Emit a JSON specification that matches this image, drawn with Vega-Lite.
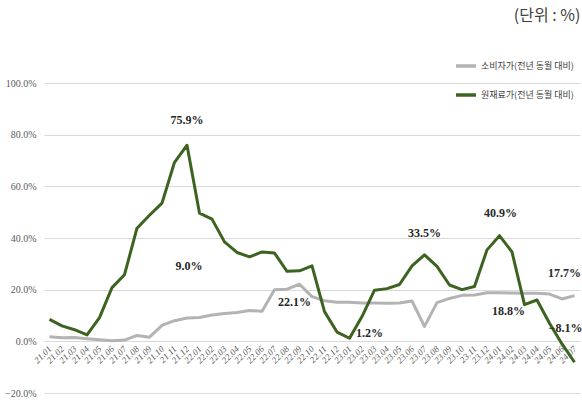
{
  "$schema": "https://vega.github.io/schema/vega-lite/v6.json",
  "width": 536,
  "height": 310,
  "autosize": {"type": "none"},
  "padding": {"left": 44, "top": 83, "right": 2, "bottom": 7},
  "background": "white",
  "title": {
    "text": "(단위 : %)",
    "anchor": "end",
    "orient": "top",
    "offset": 30,
    "fontSize": 16,
    "fontWeight": "normal",
    "font": "Noto Sans CJK KR",
    "color": "#404040",
    "dx": -2
  },
  "config": {
    "view": {"stroke": null},
    "font": "Liberation Sans Narrow"
  },
  "data": {
    "values": [
      {"m": "21.01", "g": 1.8, "r": 8.5},
      {"m": "21.02", "g": 1.4, "r": 6.0},
      {"m": "21.03", "g": 1.5, "r": 4.5},
      {"m": "21.04", "g": 1.0, "r": 2.5},
      {"m": "21.05", "g": 0.6, "r": 9.2},
      {"m": "21.06", "g": 0.2, "r": 20.8},
      {"m": "21.07", "g": 0.5, "r": 25.8},
      {"m": "21.08", "g": 2.3, "r": 43.8},
      {"m": "21.09", "g": 1.6, "r": 48.8},
      {"m": "21.10", "g": 6.2, "r": 53.5},
      {"m": "21.11", "g": 8.0, "r": 69.3},
      {"m": "21.12", "g": 9.0, "r": 75.9},
      {"m": "22.01", "g": 9.2, "r": 49.6},
      {"m": "22.02", "g": 10.2, "r": 47.3},
      {"m": "22.03", "g": 10.8, "r": 38.5},
      {"m": "22.04", "g": 11.2, "r": 34.4},
      {"m": "22.05", "g": 11.9, "r": 32.7},
      {"m": "22.06", "g": 11.6, "r": 34.6},
      {"m": "22.07", "g": 20.0, "r": 34.2},
      {"m": "22.08", "g": 20.2, "r": 27.1},
      {"m": "22.09", "g": 22.1, "r": 27.3},
      {"m": "22.10", "g": 17.3, "r": 29.2},
      {"m": "22.11", "g": 15.7, "r": 11.5},
      {"m": "22.12", "g": 15.1, "r": 3.6},
      {"m": "23.01", "g": 15.1, "r": 1.2},
      {"m": "23.02", "g": 14.8, "r": 9.6},
      {"m": "23.03", "g": 14.8, "r": 19.8},
      {"m": "23.04", "g": 14.7, "r": 20.4},
      {"m": "23.05", "g": 14.8, "r": 22.0},
      {"m": "23.06", "g": 15.6, "r": 29.2},
      {"m": "23.07", "g": 5.8, "r": 33.5},
      {"m": "23.08", "g": 15.0, "r": 29.0},
      {"m": "23.09", "g": 16.6, "r": 21.8},
      {"m": "23.10", "g": 17.8, "r": 20.0},
      {"m": "23.11", "g": 17.9, "r": 21.2},
      {"m": "23.12", "g": 18.8, "r": 35.4},
      {"m": "24.01", "g": 18.8, "r": 40.9},
      {"m": "24.02", "g": 18.7, "r": 34.6},
      {"m": "24.03", "g": 18.6, "r": 14.2},
      {"m": "24.04", "g": 18.6, "r": 16.0},
      {"m": "24.05", "g": 18.3, "r": 7.0},
      {"m": "24.06", "g": 16.4, "r": -1.0},
      {"m": "24.07", "g": 17.7, "r": -8.1}
    ]
  },
  "transform": [
    {"fold": ["g", "r"], "as": ["key", "value"]},
    {"lookup": "key", "from": {"data": {"values": [
      {"key": "g", "series": "소비자가(전년 동월 대비)"},
      {"key": "r", "series": "원재료가(전년 동월 대비)"}
    ]}, "key": "key", "fields": ["series"]}}
  ],
  "encoding": {
    "x": {
      "field": "m",
      "type": "ordinal",
      "scale": {"type": "point", "padding": 0.44},
      "axis": {
        "title": null,
        "labelAngle": -45,
        "labelAlign": "right",
        "labelBaseline": "middle",
        "labelFontSize": 9,
        "labelColor": "#595959",
        "labelFontStyle": "italic",
        "domain": false,
        "ticks": false,
        "labelPadding": 5,
        "offset": -51,
        "grid": false
      }
    },
    "y": {
      "field": "value",
      "type": "quantitative",
      "scale": {"domain": [-20, 100], "nice": false, "zero": false},
      "axis": {
        "title": null,
        "values": [-20, 0, 20, 40, 60, 80, 100],
        "labelExpr": "format(datum.value, '.1f') + '%'",
        "labelFontSize": 10,
        "labelColor": "#595959",
        "domain": false,
        "ticks": false,
        "labelPadding": 8,
        "grid": true,
        "gridColor": "#d9d9d9",
        "gridWidth": 1
      }
    }
  },
  "layer": [
    {
      "mark": {"type": "line", "strokeWidth": 3, "strokeJoin": "round"},
      "encoding": {
        "color": {
          "field": "series",
          "type": "nominal",
          "scale": {
            "domain": ["소비자가(전년 동월 대비)", "원재료가(전년 동월 대비)"],
            "range": ["#b3b3b3", "#3d6321"]
          },
          "legend": {
            "title": null,
            "orient": "none",
            "legendX": 410,
            "legendY": -29,
            "symbolType": "stroke",
            "symbolSize": 400,
            "symbolStrokeWidth": 3.5,
            "labelFont": "Noto Sans CJK KR",
            "labelFontSize": 9,
            "labelColor": "#404040",
            "rowPadding": 10,
            "labelOffset": 3
          }
        }
      }
    },
    {
      "transform": [{"filter": "datum.m == '21.12' && datum.key == 'r'"}],
      "mark": {"type": "text", "dy": -25, "fontSize": 12, "fontWeight": "bold", "color": "#262626", "text": {"expr": "format(datum.value, '.1f') + '%'"}}
    },
    {
      "transform": [{"filter": "datum.m == '21.12' && datum.key == 'g'"}],
      "mark": {"type": "text", "dy": -52, "dx": 2, "fontSize": 12, "fontWeight": "bold", "color": "#262626", "text": {"expr": "format(datum.value, '.1f') + '%'"}}
    },
    {
      "transform": [{"filter": "datum.m == '22.09' && datum.key == 'g'"}],
      "mark": {"type": "text", "dy": 18, "dx": -5, "fontSize": 12, "fontWeight": "bold", "color": "#262626", "text": {"expr": "format(datum.value, '.1f') + '%'"}}
    },
    {
      "transform": [{"filter": "datum.m == '23.01' && datum.key == 'r'"}],
      "mark": {"type": "text", "dy": -5, "dx": 20, "fontSize": 12, "fontWeight": "bold", "color": "#262626", "text": {"expr": "format(datum.value, '.1f') + '%'"}}
    },
    {
      "transform": [{"filter": "datum.m == '23.07' && datum.key == 'r'"}],
      "mark": {"type": "text", "dy": -22, "fontSize": 12, "fontWeight": "bold", "color": "#262626", "text": {"expr": "format(datum.value, '.1f') + '%'"}}
    },
    {
      "transform": [{"filter": "datum.m == '24.01' && datum.key == 'r'"}],
      "mark": {"type": "text", "dy": -23, "dx": 1, "fontSize": 12, "fontWeight": "bold", "color": "#262626", "text": {"expr": "format(datum.value, '.1f') + '%'"}}
    },
    {
      "transform": [{"filter": "datum.m == '24.01' && datum.key == 'g'"}],
      "mark": {"type": "text", "dy": 18, "dx": 9, "fontSize": 12, "fontWeight": "bold", "color": "#262626", "text": {"expr": "format(datum.value, '.1f') + '%'"}}
    },
    {
      "transform": [{"filter": "datum.m == '24.07' && datum.key == 'r'"}],
      "mark": {"type": "text", "dy": -34, "dx": -9, "fontSize": 12, "fontWeight": "bold", "color": "#262626", "text": {"expr": "format(datum.value, '.1f') + '%'"}}
    },
    {
      "transform": [{"filter": "datum.m == '24.07' && datum.key == 'g'"}],
      "mark": {"type": "text", "dy": -23, "dx": -10, "fontSize": 12, "fontWeight": "bold", "color": "#262626", "text": {"expr": "format(datum.value, '.1f') + '%'"}}
    }
  ]
}
